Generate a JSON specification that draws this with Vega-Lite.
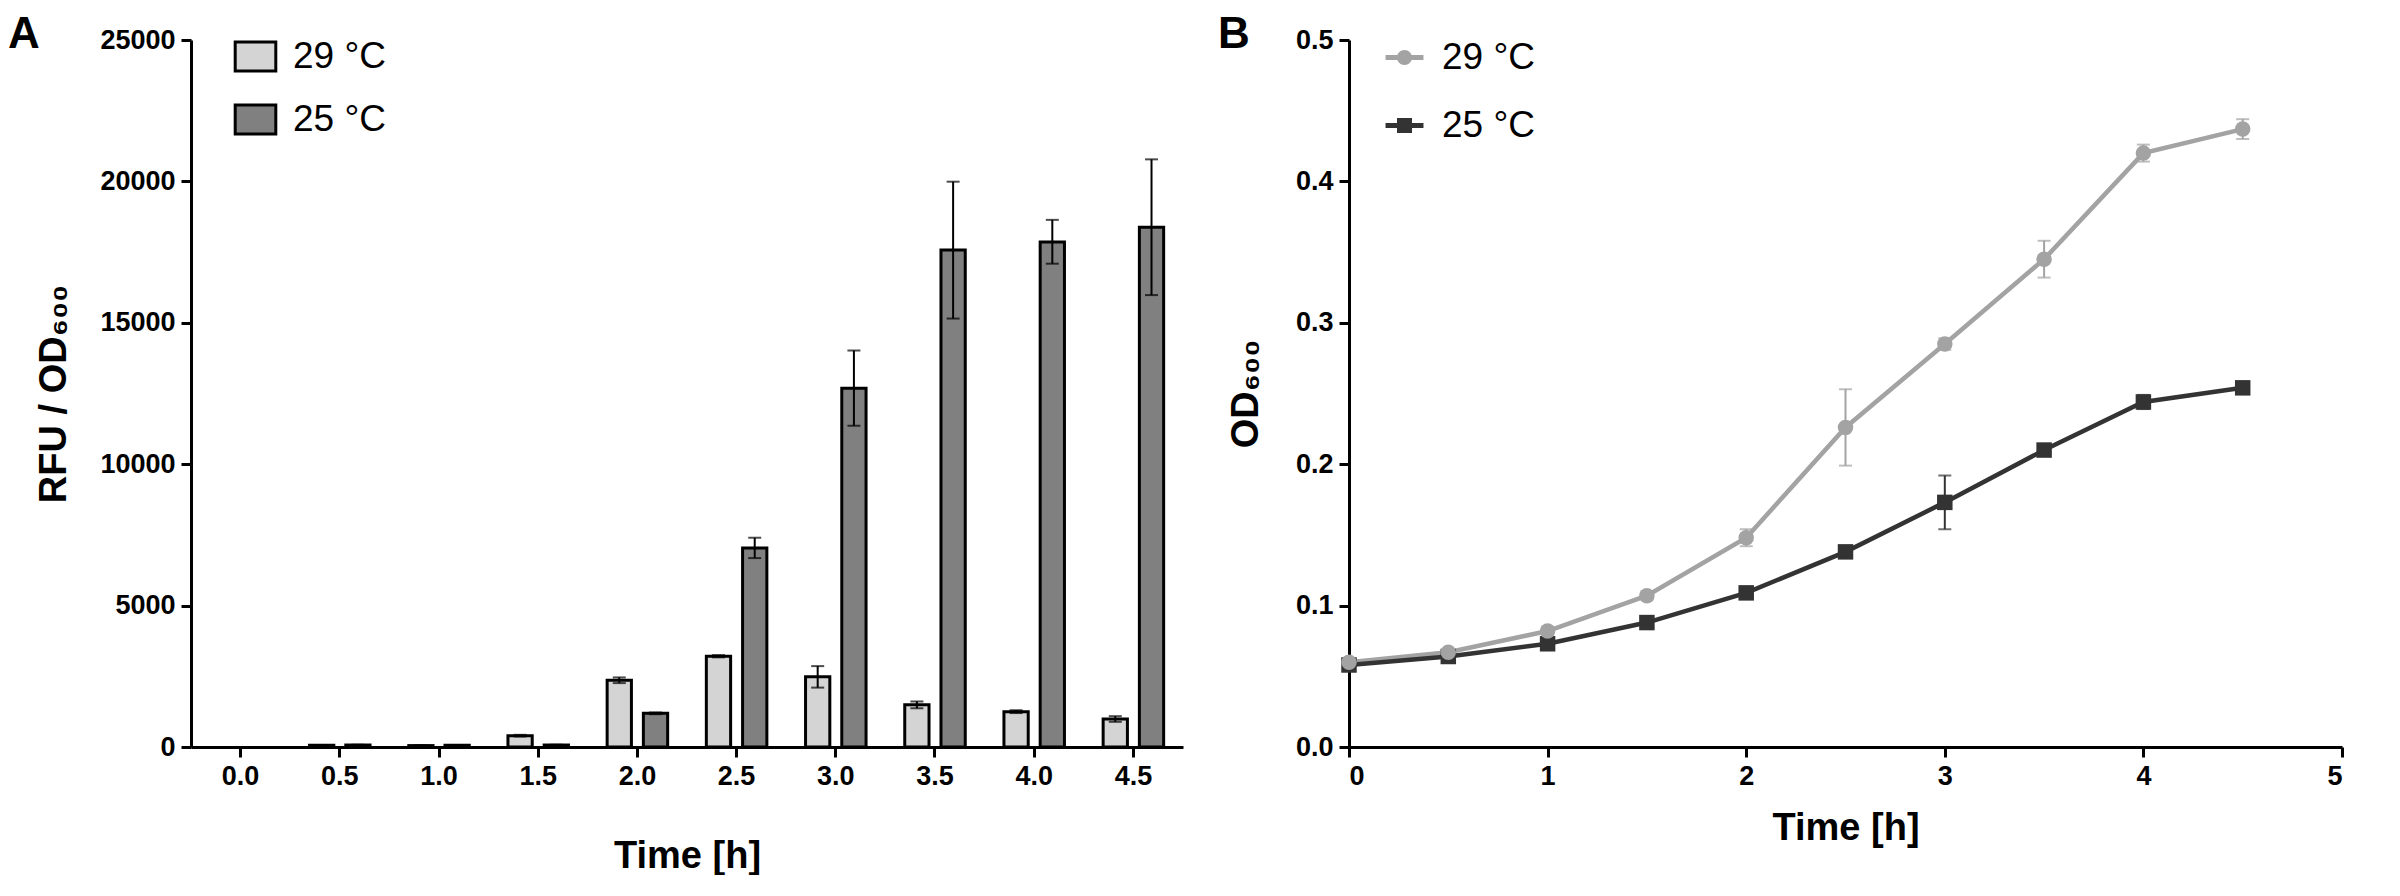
{
  "$schema": "https://vega.github.io/schema/vega-lite/v6.json",
  "background": "white",
  "padding": {"left": 8, "top": 13, "right": 0, "bottom": 0},
  "spacing": 35,
  "resolve": {
    "scale": {"x": "independent", "y": "independent", "fill": "independent", "shape": "independent", "color": "independent", "stroke": "independent"},
    "legend": {"fill": "independent", "shape": "independent", "color": "independent", "stroke": "independent"}
  },
  "config": {
    "view": {"stroke": null},
    "font": "Liberation Sans",
    "axis": {
      "grid": false,
      "domainColor": "black",
      "domainWidth": 3,
      "tickColor": "black",
      "tickWidth": 3,
      "tickSize": 10,
      "labelFont": "Liberation Sans",
      "labelFontWeight": "bold",
      "labelFontSize": 27,
      "labelColor": "black",
      "labelPadding": 6,
      "titleFont": "Liberation Sans",
      "titleFontWeight": "bold",
      "titleFontSize": 38,
      "titleColor": "black"
    },
    "legend": {
      "title": null,
      "padding": 0,
      "labelFont": "Liberation Sans",
      "labelFontSize": 37,
      "labelColor": "black",
      "labelLimit": 300
    },
    "title": {
      "font": "Liberation Sans",
      "fontSize": 44,
      "fontWeight": "bold",
      "color": "black",
      "anchor": "start",
      "frame": "group",
      "baseline": "alphabetic",
      "offset": 0
    }
  },
  "hconcat": [
    {
      "width": 992,
      "height": 707,
      "title": {"text": "A", "dx": -183, "dy": 35},
      "data": {
        "values": [
          {"time": "0.5", "temp": "29 °C", "mean": 60, "lo": 50, "hi": 70},
          {"time": "0.5", "temp": "25 °C", "mean": 70, "lo": 60, "hi": 80},
          {"time": "1.0", "temp": "29 °C", "mean": 50, "lo": 40, "hi": 60},
          {"time": "1.0", "temp": "25 °C", "mean": 60, "lo": 50, "hi": 70},
          {"time": "1.5", "temp": "29 °C", "mean": 400, "lo": 370, "hi": 430},
          {"time": "1.5", "temp": "25 °C", "mean": 70, "lo": 60, "hi": 80},
          {"time": "2.0", "temp": "29 °C", "mean": 2360, "lo": 2260, "hi": 2460},
          {"time": "2.0", "temp": "25 °C", "mean": 1190, "lo": 1160, "hi": 1220},
          {"time": "2.5", "temp": "29 °C", "mean": 3210, "lo": 3170, "hi": 3250},
          {"time": "2.5", "temp": "25 °C", "mean": 7040, "lo": 6680, "hi": 7400},
          {"time": "3.0", "temp": "29 °C", "mean": 2480, "lo": 2100, "hi": 2860},
          {"time": "3.0", "temp": "25 °C", "mean": 12690, "lo": 11360, "hi": 14020},
          {"time": "3.5", "temp": "29 °C", "mean": 1490, "lo": 1370, "hi": 1610},
          {"time": "3.5", "temp": "25 °C", "mean": 17570, "lo": 15150, "hi": 19990},
          {"time": "4.0", "temp": "29 °C", "mean": 1250, "lo": 1200, "hi": 1300},
          {"time": "4.0", "temp": "25 °C", "mean": 17860, "lo": 17090, "hi": 18640},
          {"time": "4.5", "temp": "29 °C", "mean": 990, "lo": 890, "hi": 1090},
          {"time": "4.5", "temp": "25 °C", "mean": 18380, "lo": 15980, "hi": 20780}
        ]
      },
      "encoding": {
        "x": {
          "field": "time",
          "type": "ordinal",
          "scale": {
            "domain": ["0.0", "0.5", "1.0", "1.5", "2.0", "2.5", "3.0", "3.5", "4.0", "4.5"],
            "paddingInner": 0.39,
            "paddingOuter": 0.195
          },
          "axis": {"labelAngle": 0, "title": "Time [h]", "titlePadding": 48}
        },
        "xOffset": {
          "field": "temp",
          "type": "nominal",
          "sort": ["29 °C", "25 °C"],
          "scale": {"paddingInner": 0.33}
        }
      },
      "layer": [
        {
          "mark": {"type": "bar", "stroke": "black", "strokeWidth": 3},
          "encoding": {
            "y": {
              "field": "mean",
              "type": "quantitative",
              "scale": {"domain": [0, 25000], "nice": false},
              "axis": {
                "values": [0, 5000, 10000, 15000, 20000, 25000],
                "format": "d",
                "title": "RFU / OD₆₀₀",
                "titlePadding": 26
              }
            },
            "fill": {
              "field": "temp",
              "type": "nominal",
              "scale": {"domain": ["29 °C", "25 °C"], "range": ["#d4d4d4", "#808080"]},
              "legend": {
                "orient": "none",
                "legendX": 46,
                "legendY": -2,
                "symbolType": "M-1.4,-1H1.4V1H-1.4Z",
                "symbolSize": 841,
                "symbolStrokeColor": "black",
                "symbolStrokeWidth": 3,
                "labelOffset": 19,
                "rowPadding": 22
              }
            }
          }
        },
        {
          "mark": {"type": "rule", "color": "black", "strokeWidth": 2},
          "encoding": {
            "y": {"field": "lo", "type": "quantitative"},
            "y2": {"field": "hi"}
          }
        },
        {
          "mark": {"type": "tick", "orient": "horizontal", "color": "black", "size": 13, "thickness": 2},
          "encoding": {"y": {"field": "hi", "type": "quantitative"}}
        },
        {
          "mark": {"type": "tick", "orient": "horizontal", "color": "black", "size": 13, "thickness": 2},
          "encoding": {"y": {"field": "lo", "type": "quantitative"}}
        }
      ]
    },
    {
      "width": 993,
      "height": 707,
      "title": {"text": "B", "dx": -131, "dy": 35},
      "data": {
        "values": [
          {"time": 0, "temp": "29 °C", "mean": 0.060, "lo": 0.058, "hi": 0.062},
          {"time": 0.5, "temp": "29 °C", "mean": 0.067, "lo": 0.065, "hi": 0.069},
          {"time": 1, "temp": "29 °C", "mean": 0.082, "lo": 0.079, "hi": 0.085},
          {"time": 1.5, "temp": "29 °C", "mean": 0.107, "lo": 0.104, "hi": 0.110},
          {"time": 2, "temp": "29 °C", "mean": 0.148, "lo": 0.142, "hi": 0.154},
          {"time": 2.5, "temp": "29 °C", "mean": 0.226, "lo": 0.199, "hi": 0.253},
          {"time": 3, "temp": "29 °C", "mean": 0.285, "lo": 0.281, "hi": 0.289},
          {"time": 3.5, "temp": "29 °C", "mean": 0.345, "lo": 0.332, "hi": 0.358},
          {"time": 4, "temp": "29 °C", "mean": 0.420, "lo": 0.414, "hi": 0.426},
          {"time": 4.5, "temp": "29 °C", "mean": 0.437, "lo": 0.430, "hi": 0.444},
          {"time": 0, "temp": "25 °C", "mean": 0.058, "lo": 0.056, "hi": 0.060},
          {"time": 0.5, "temp": "25 °C", "mean": 0.064, "lo": 0.062, "hi": 0.066},
          {"time": 1, "temp": "25 °C", "mean": 0.073, "lo": 0.071, "hi": 0.075},
          {"time": 1.5, "temp": "25 °C", "mean": 0.088, "lo": 0.086, "hi": 0.090},
          {"time": 2, "temp": "25 °C", "mean": 0.109, "lo": 0.107, "hi": 0.111},
          {"time": 2.5, "temp": "25 °C", "mean": 0.138, "lo": 0.136, "hi": 0.140},
          {"time": 3, "temp": "25 °C", "mean": 0.173, "lo": 0.154, "hi": 0.192},
          {"time": 3.5, "temp": "25 °C", "mean": 0.210, "lo": 0.208, "hi": 0.212},
          {"time": 4, "temp": "25 °C", "mean": 0.244, "lo": 0.239, "hi": 0.249},
          {"time": 4.5, "temp": "25 °C", "mean": 0.254, "lo": 0.251, "hi": 0.257}
        ]
      },
      "encoding": {
        "x": {
          "field": "time",
          "type": "quantitative",
          "scale": {"domain": [0, 5], "nice": false},
          "axis": {"values": [0, 1, 2, 3, 4, 5], "format": "d", "title": "Time [h]", "titlePadding": 20}
        }
      },
      "layer": [
        {
          "mark": {"type": "line", "strokeWidth": 4.5},
          "encoding": {
            "y": {
              "field": "mean",
              "type": "quantitative",
              "scale": {"domain": [0, 0.5], "nice": false},
              "axis": {
                "values": [0, 0.1, 0.2, 0.3, 0.4, 0.5],
                "format": ".1f",
                "title": "OD₆₀₀",
                "titlePadding": 30
              }
            },
            "stroke": {
              "field": "temp",
              "type": "nominal",
              "scale": {"domain": ["29 °C", "25 °C"], "range": ["#a3a3a3", "#333333"]},
              "legend": {
                "orient": "none",
                "legendX": 37,
                "legendY": -1,
                "symbolSize": 225,
                "labelOffset": 19,
                "rowPadding": 30,
                "encode": {
                  "symbols": {
                    "update": {
                      "shape": {
                        "signal": "datum.value === '29 °C' ? 'M-2.53,-0.33H-0.9V0.33H-2.53Z M0.9,-0.33H2.53V0.33H0.9Z M1,0A1,1 0 1,1 -1,0A1,1 0 1,1 1,0Z' : 'M-2.53,-0.33H-1V0.33H-2.53Z M1,-0.33H2.53V0.33H1Z M-1,-1H1V1H-1Z'"
                      },
                      "fill": {"signal": "datum.value === '29 °C' ? '#a3a3a3' : '#333333'"},
                      "fillOpacity": {"value": 1},
                      "opacity": {"value": 1},
                      "strokeWidth": {"value": 0}
                    }
                  }
                }
              }
            }
          }
        },
        {
          "mark": {"type": "rule", "strokeWidth": 2},
          "encoding": {
            "y": {"field": "lo", "type": "quantitative"},
            "y2": {"field": "hi"},
            "color": {
              "field": "temp",
              "type": "nominal",
              "scale": {"domain": ["29 °C", "25 °C"], "range": ["#a3a3a3", "#333333"]},
              "legend": null
            }
          }
        },
        {
          "mark": {"type": "tick", "orient": "horizontal", "size": 13, "thickness": 2},
          "encoding": {
            "y": {"field": "hi", "type": "quantitative"},
            "color": {"field": "temp", "type": "nominal", "legend": null}
          }
        },
        {
          "mark": {"type": "tick", "orient": "horizontal", "size": 13, "thickness": 2},
          "encoding": {
            "y": {"field": "lo", "type": "quantitative"},
            "color": {"field": "temp", "type": "nominal", "legend": null}
          }
        },
        {
          "transform": [{"filter": "datum.temp === '25 °C'"}],
          "mark": {"type": "point", "shape": "square", "filled": true, "opacity": 1, "size": 240, "color": "#333333"},
          "encoding": {
            "y": {"field": "mean", "type": "quantitative"}
          }
        },
        {
          "transform": [{"filter": "datum.temp === '29 °C'"}],
          "mark": {"type": "point", "shape": "circle", "filled": true, "opacity": 1, "size": 240, "color": "#a3a3a3"},
          "encoding": {
            "y": {"field": "mean", "type": "quantitative"}
          }
        }
      ]
    }
  ]
}
